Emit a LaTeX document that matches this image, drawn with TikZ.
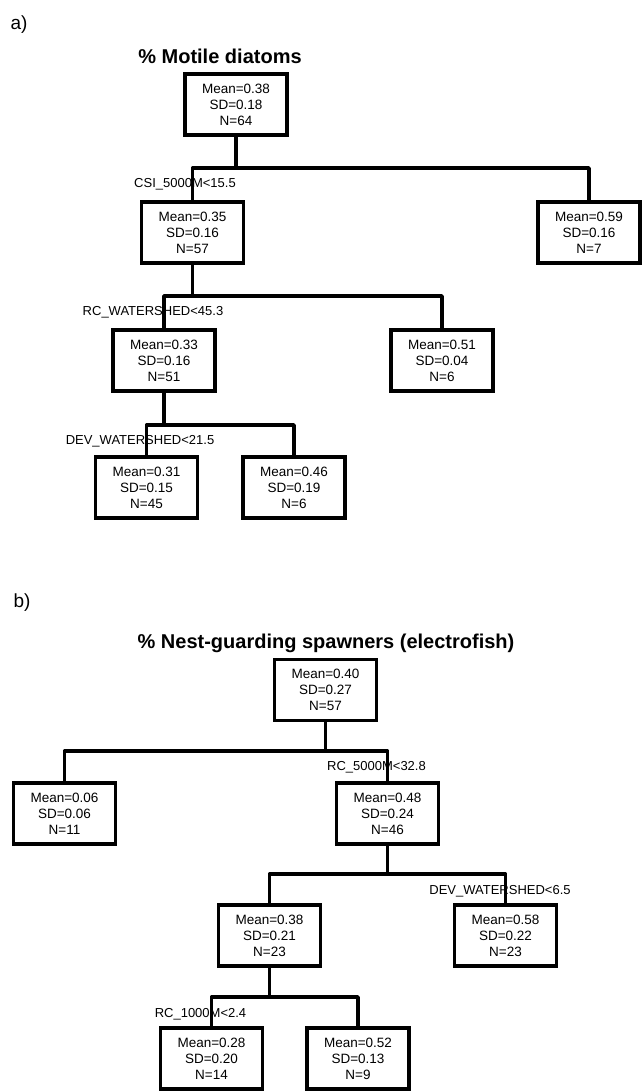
\documentclass[tikz,border=0pt]{standalone}
\usepackage{fontspec}
\setmainfont{Liberation Sans}
\begin{document}
\begin{tikzpicture}[x=1pt,y=-1pt,
  leaf/.style={draw, line width=3.5pt, minimum width=102pt, minimum height=61pt, inner sep=0pt,
    align=center, font=\fontsize{13.5}{16}\selectfont},
  conn/.style={line width=3.5pt, line join=round},
  splitlabel/.style={inner sep=0pt, font=\fontsize{13}{15}\selectfont},
  ttl/.style={inner sep=0pt, font=\fontsize{20}{24}\selectfont\bfseries},
  panel/.style={inner sep=0pt, font=\fontsize{19}{22}\selectfont}]
\useasboundingbox (0,0) rectangle (642,1091);
% ---------- a ----------
\node[panel] (pa) at (19,25) {a)};
\node[ttl] (ta) at (220,56) {\% Motile diatoms};
\node[leaf] (A0) at (236,104.5) {Mean=0.38\\SD=0.18\\N=64};
\node[leaf] (A1) at (192.5,232.5) {Mean=0.35\\SD=0.16\\N=57};
\node[leaf] (A2) at (589,232.5) {Mean=0.59\\SD=0.16\\N=7};
\node[leaf] (A3) at (164,360.5) {Mean=0.33\\SD=0.16\\N=51};
\node[leaf] (A4) at (442,360.5) {Mean=0.51\\SD=0.04\\N=6};
\node[leaf] (A5) at (146.5,487.5) {Mean=0.31\\SD=0.15\\N=45};
\node[leaf] (A6) at (294,487.5) {Mean=0.46\\SD=0.19\\N=6};
\coordinate (ya1) at (0,168);
\coordinate (ya2) at (0,296);
\coordinate (ya3) at (0,425);
\draw[conn] (A0.south) -- (A0.south |- ya1);
\draw[conn] (A1.north) -- (A1.north |- ya1) -- (A2.north |- ya1) -- (A2.north);
\draw[conn] (A1.south) -- (A1.south |- ya2);
\draw[conn] (A3.north) -- (A3.north |- ya2) -- (A4.north |- ya2) -- (A4.north);
\draw[conn] (A3.south) -- (A3.south |- ya3);
\draw[conn] (A5.north) -- (A5.north |- ya3) -- (A6.north |- ya3) -- (A6.north);
\node[splitlabel] (la1) at (185,184) {CSI\_5000M<15.5};
\node[splitlabel] (la2) at (153,312) {RC\_WATERSHED<45.3};
\node[splitlabel] (la3) at (140,441) {DEV\_WATERSHED<21.5};
% ---------- b ----------
\node[panel] (pb) at (22,603) {b)};
\node[ttl] (tb) at (326,643) {\% Nest-guarding spawners (electrofish)};
\node[leaf] (B0) at (325.5,690) {Mean=0.40\\SD=0.27\\N=57};
\node[leaf] (B1) at (64.5,813.5) {Mean=0.06\\SD=0.06\\N=11};
\node[leaf] (B2) at (387.5,813.5) {Mean=0.48\\SD=0.24\\N=46};
\node[leaf] (B3) at (269.5,935.5) {Mean=0.38\\SD=0.21\\N=23};
\node[leaf] (B4) at (505.5,935.5) {Mean=0.58\\SD=0.22\\N=23};
\node[leaf] (B5) at (211.5,1058.5) {Mean=0.28\\SD=0.20\\N=14};
\node[leaf] (B6) at (358,1058.5) {Mean=0.52\\SD=0.13\\N=9};
\coordinate (yb1) at (0,751);
\coordinate (yb2) at (0,874);
\coordinate (yb3) at (0,997);
\draw[conn] (B0.south) -- (B0.south |- yb1);
\draw[conn] (B1.north) -- (B1.north |- yb1) -- (B2.north |- yb1) -- (B2.north);
\draw[conn] (B2.south) -- (B2.south |- yb2);
\draw[conn] (B3.north) -- (B3.north |- yb2) -- (B4.north |- yb2) -- (B4.north);
\draw[conn] (B3.south) -- (B3.south |- yb3);
\draw[conn] (B5.north) -- (B5.north |- yb3) -- (B6.north |- yb3) -- (B6.north);
\node[splitlabel] (lb1) at (376.5,767) {RC\_5000M<32.8};
\node[splitlabel] (lb2) at (500,891) {DEV\_WATERSHED<6.5};
\node[splitlabel] (lb3) at (200.5,1014) {RC\_1000M<2.4};
\end{tikzpicture}
\end{document}
